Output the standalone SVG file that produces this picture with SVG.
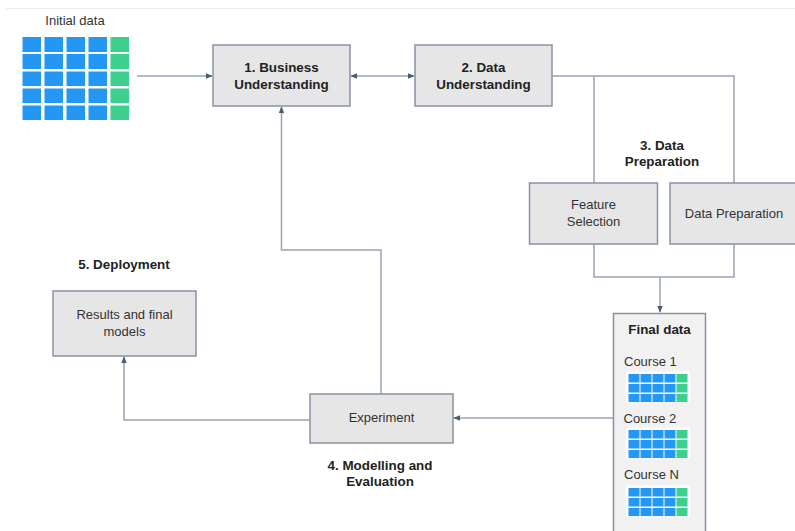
<svg xmlns="http://www.w3.org/2000/svg" width="795" height="531" viewBox="0 0 795 531">
  <style>
    text { font-family: "Liberation Sans", Arial, sans-serif; font-size: 13px; fill: #333; }
    .b { font-weight: bold; font-size: 13.4px; fill: #222; }
    .mid { text-anchor: middle; }
    .box { fill: #e6e6e6; stroke: #8792a2; stroke-width: 1.5; }
    .panel { fill: #f1f1f1; stroke: #8792a2; stroke-width: 1.5; }
    .line { fill: none; stroke: #98a3b3; stroke-width: 1.5; }
    .blue { fill: #2497f5; }
    .green { fill: #3ccf8e; }
  </style>
  <defs>
    <marker id="arrow" viewBox="0 0 10 10" refX="9" refY="5" markerWidth="7" markerHeight="7" orient="auto-start-reverse" markerUnits="userSpaceOnUse">
      <path d="M0,1 L10,5 L0,9 z" fill="#4a5a70"/>
    </marker>
    <!-- small 5x3 table icon used inside the final data panel -->
    <g id="mini">
      <rect x="-2.5" y="-2.5" width="64" height="31" fill="#ffffff"/>
      <g class="blue">
        <rect x="0" y="0" width="11" height="8.5"/><rect x="12" y="0" width="11" height="8.5"/><rect x="24" y="0" width="11" height="8.5"/><rect x="36" y="0" width="11" height="8.5"/>
        <rect x="0" y="10" width="11" height="8.5"/><rect x="12" y="10" width="11" height="8.5"/><rect x="24" y="10" width="11" height="8.5"/><rect x="36" y="10" width="11" height="8.5"/>
        <rect x="0" y="20" width="11" height="8"/><rect x="12" y="20" width="11" height="8"/><rect x="24" y="20" width="11" height="8"/><rect x="36" y="20" width="11" height="8"/>
      </g>
      <g class="green">
        <rect x="48" y="0" width="11" height="8.5"/><rect x="48" y="10" width="11" height="8.5"/><rect x="48" y="20" width="11" height="8"/>
      </g>
    </g>
  </defs>

  <rect x="0" y="0" width="795" height="531" fill="#ffffff"/>
  <line x1="6" y1="8.5" x2="795" y2="8.5" stroke="#ececec" stroke-width="1"/>

  <!-- connectors -->
  <g id="connectors">
    <line class="line" x1="137" y1="76" x2="212" y2="76" marker-end="url(#arrow)"/>
    <line class="line" x1="351" y1="76" x2="414" y2="76" marker-start="url(#arrow)" marker-end="url(#arrow)"/>
    <polyline class="line" points="552,76 734,76 734,183"/>
    <line class="line" x1="594" y1="76" x2="594" y2="183"/>
    <polyline class="line" points="594,244 594,277 734,277 734,244"/>
    <line class="line" x1="660" y1="277" x2="660" y2="312" marker-end="url(#arrow)"/>
    <line class="line" x1="613" y1="418" x2="454" y2="418" marker-end="url(#arrow)"/>
    <polyline class="line" points="381,394 381,250 281.5,250 281.5,107" marker-end="url(#arrow)"/>
    <polyline class="line" points="310,420 124,420 124,357" marker-end="url(#arrow)"/>
  </g>

  <!-- initial data table -->
  <g id="initial-data">
    <text class="mid" x="75" y="25">Initial data</text>
    <g class="blue">
      <rect x="22.5" y="37" width="18.5" height="15"/><rect x="44.5" y="37" width="18.5" height="15"/><rect x="66.5" y="37" width="18.5" height="15"/><rect x="88.5" y="37" width="18.5" height="15"/>
      <rect x="22.5" y="54" width="18.5" height="15"/><rect x="44.5" y="54" width="18.5" height="15"/><rect x="66.5" y="54" width="18.5" height="15"/><rect x="88.5" y="54" width="18.5" height="15"/>
      <rect x="22.5" y="71.5" width="18.5" height="14.5"/><rect x="44.5" y="71.5" width="18.5" height="14.5"/><rect x="66.5" y="71.5" width="18.5" height="14.5"/><rect x="88.5" y="71.5" width="18.5" height="14.5"/>
      <rect x="22.5" y="88.5" width="18.5" height="14.5"/><rect x="44.5" y="88.5" width="18.5" height="14.5"/><rect x="66.5" y="88.5" width="18.5" height="14.5"/><rect x="88.5" y="88.5" width="18.5" height="14.5"/>
      <rect x="22.5" y="105.5" width="18.5" height="14.5"/><rect x="44.5" y="105.5" width="18.5" height="14.5"/><rect x="66.5" y="105.5" width="18.5" height="14.5"/><rect x="88.5" y="105.5" width="18.5" height="14.5"/>
    </g>
    <g class="green">
      <rect x="110.5" y="37" width="18.5" height="15"/><rect x="110.5" y="54" width="18.5" height="15"/><rect x="110.5" y="71.5" width="18.5" height="14.5"/><rect x="110.5" y="88.5" width="18.5" height="14.5"/><rect x="110.5" y="105.5" width="18.5" height="14.5"/>
    </g>
  </g>

  <g id="business-understanding">
    <rect class="box" x="213" y="45" width="137" height="61"/>
    <text class="b mid" x="281.5" y="72">1. Business</text>
    <text class="b mid" x="281.5" y="89">Understanding</text>
  </g>

  <g id="data-understanding">
    <rect class="box" x="415" y="45" width="137" height="61"/>
    <text class="b mid" x="483.5" y="72">2. Data</text>
    <text class="b mid" x="483.5" y="89">Understanding</text>
  </g>

  <g id="data-preparation-label">
    <text class="b mid" x="662" y="150">3. Data</text>
    <text class="b mid" x="662" y="166">Preparation</text>
  </g>

  <g id="feature-selection">
    <rect class="box" x="529.5" y="183" width="128" height="61"/>
    <text class="mid" x="593.5" y="209">Feature</text>
    <text class="mid" x="593.5" y="226">Selection</text>
  </g>

  <g id="data-preparation">
    <rect class="box" x="670" y="183" width="130" height="61"/>
    <text class="mid" x="734" y="218">Data Preparation</text>
  </g>

  <g id="final-data">
    <rect class="panel" x="613.5" y="313.5" width="92" height="230"/>
    <text class="b mid" x="659.5" y="334">Final data</text>
    <text x="624" y="366">Course 1</text>
    <use href="#mini" x="628.5" y="374"/>
    <text x="623.5" y="423">Course 2</text>
    <use href="#mini" x="628.5" y="430"/>
    <text x="624" y="479">Course N</text>
    <use href="#mini" x="628.5" y="488"/>
  </g>

  <g id="experiment">
    <rect class="box" x="310" y="394" width="143" height="49"/>
    <text class="mid" x="381.5" y="422">Experiment</text>
  </g>

  <g id="modelling-label">
    <text class="b mid" x="380" y="470">4. Modelling and</text>
    <text class="b mid" x="380" y="486">Evaluation</text>
  </g>

  <g id="deployment-label">
    <text class="b mid" x="124" y="269">5. Deployment</text>
  </g>

  <g id="results">
    <rect class="box" x="53" y="291" width="143" height="65"/>
    <text class="mid" x="124.5" y="319">Results and final</text>
    <text class="mid" x="124.5" y="336">models</text>
  </g>
</svg>
